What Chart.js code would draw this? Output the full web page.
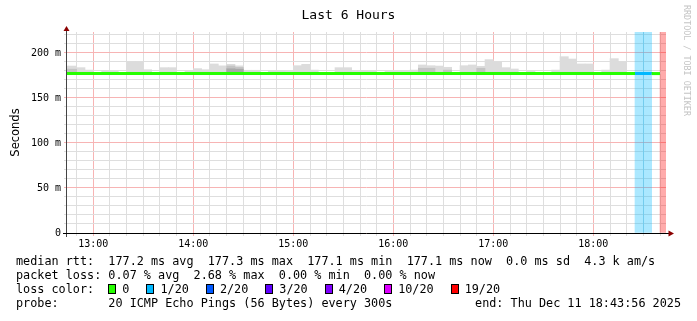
<!DOCTYPE html>
<html><head><meta charset="utf-8">
<script src="https://cdn.jsdelivr.net/npm/chart.js@4"></script>
<style>
html,body{margin:0;padding:0;background:#fff;width:697px;height:321px;overflow:hidden;position:relative;}
#c{position:absolute;left:0;top:0;}
.t{position:absolute;font-family:"DejaVu Sans Mono",monospace;color:#000;white-space:pre;}
#title{left:0;width:697px;top:7px;text-align:center;font-size:13px;line-height:16px;}
.row{left:16px;font-size:11.8px;line-height:14px;}
#r1{top:254px;} #r2{top:268px;} #r3{top:282px;} #r4{top:296px;}
#end{top:296px;right:16px;font-size:11.8px;line-height:14px;}
#wm{left:682px;top:5px;font-size:8.4px;line-height:9px;color:#c4c4c4;writing-mode:vertical-rl;}
.box{display:inline-block;width:6px;height:8px;border:1px solid #000;vertical-align:-1px;margin-right:6px;}
.lab{margin-right:17px;}
</style></head>
<body>
<canvas id="c" width="697" height="321"></canvas>
<div class="t" id="title">Last 6 Hours</div>
<div class="t" id="wm">RRDTOOL / TOBI OETIKER</div>
<div class="t row" id="r1">median rtt:  177.2 ms avg  177.3 ms max  177.1 ms min  177.1 ms now  0.0 ms sd  4.3 k am/s</div>
<div class="t row" id="r2">packet loss: 0.07 % avg  2.68 % max  0.00 % min  0.00 % now</div>
<div class="t row" id="r3"></div>
<div class="t row" id="r4">probe:       20 ICMP Echo Pings (56 Bytes) every 300s</div>
<div class="t" id="end">end: Thu Dec 11 18:43:56 2025</div>
<script>
// ---- data ----
const slotTimes = [
 '12:40','12:45','12:50','12:55',
 '13:00','13:05','13:10','13:15','13:20','13:25','13:30','13:35','13:40','13:45','13:50','13:55',
 '14:00','14:05','14:10','14:15','14:20','14:25','14:30','14:35','14:40','14:45','14:50','14:55',
 '15:00','15:05','15:10','15:15','15:20','15:25','15:30','15:35','15:40','15:45','15:50','15:55',
 '16:00','16:05','16:10','16:15','16:20','16:25','16:30','16:35','16:40','16:45','16:50','16:55',
 '17:00','17:05','17:10','17:15','17:20','17:25','17:30','17:35','17:40','17:45','17:50','17:55',
 '18:00','18:05','18:10','18:15','18:20','18:25','18:30','18:35','18:40'
];
const slotMinutes = 5;
const medianRtt = [
 177.2,177.2,177.2,177.2,
 177.2,177.2,177.1,177.2,177.3,177.2,177.2,177.2,177.2,177.2,177.1,177.2,
 177.2,177.2,177.2,177.2,177.3,177.2,177.2,177.2,177.2,177.2,177.2,177.2,
 177.2,177.2,177.2,177.1,177.2,177.2,177.2,177.2,177.2,177.2,177.2,177.2,
 177.2,177.2,177.2,177.2,177.2,177.2,177.2,177.2,177.2,177.2,177.2,177.2,
 177.2,177.2,177.2,177.2,177.1,177.2,177.2,177.2,177.2,177.2,177.2,177.2,
 177.2,177.2,177.2,177.2,177.2,177.2,177.2,177.1,null
];
const smokeMax = [
 185.5,185.5,183.7,181.0,
 178.5,180.0,180.0,178.5,190.4,190.4,181.4,178.5,183.7,183.7,178.5,180.4,
 182.6,181.4,187.8,185.7,187.4,185.7,180.8,180.8,178.5,180.4,180.4,179.5,
 185.9,187.4,181.0,178.5,178.5,183.7,183.7,179.5,180.6,180.0,178.5,179.5,
 179.5,179.5,181.0,186.7,185.9,185.5,184.1,178.5,185.9,186.7,185.2,192.6,
 190.0,183.7,182.2,178.5,179.5,178.5,178.5,181.0,195.9,193.3,187.8,187.8,
 178.5,181.0,193.7,190.4,178.5,null,null,178.5,null
];
const smokeMid = [['12:40',182.0],['12:45',182.0],['14:20',185.5],['14:25',184.0],['16:15',183.0],['16:20',183.0],['16:30',181.0],['16:50',183.0]];
const smokeDark = [['14:20',182.5],['14:25',182.0]];
const lossEvents = [['18:25',1],['18:30',1],['18:40',19]];
const lossLevels = [[0,'#26ff00','0'],[1,'#00b8ff','1/20'],[2,'#0059ff','2/20'],[3,'#5e00ff','3/20'],[4,'#7e00ff','4/20'],[10,'#dd00ff','10/20'],[19,'#ff0000','19/20']];
const yTickLabels = {0:'0',50:'50 m',100:'100 m',150:'150 m',200:'200 m'};
const xHourLabels = {780:'13:00',840:'14:00',900:'15:00',960:'16:00',1020:'17:00',1080:'18:00'};
const xRange = [764.2, 1123.6];
const yRange = [0, 223.3];

// ---- helpers ----
const toMin = s => { const [h,m] = s.split(':').map(Number); return h*60+m; };
const lossByTime = Object.fromEntries(lossEvents);
const lossColor = n => { let c = lossLevels[0][1]; for (const [t,col] of lossLevels) if (n >= t) c = col; return c; };
const alpha = (hex,a) => { const r=parseInt(hex.slice(1,3),16),g=parseInt(hex.slice(3,5),16),b=parseInt(hex.slice(5,7),16); return `rgba(${r},${g},${b},${a})`; };

const r3 = document.getElementById('r3');
r3.innerHTML = 'loss color:  ' + lossLevels.map(([t,c,l]) => `<span class="box" style="background:${c}"></span><span class="lab">${l}</span>`).join('');

const idx = Object.fromEntries(slotTimes.map((t,i)=>[t,i]));
const center = t => toMin(t) + slotMinutes/2;
const smokeData = slotTimes.map((t,i) => smokeMax[i]==null ? {x:center(t), y:null} : {x:center(t), y:[medianRtt[i], smokeMax[i]]});
const midData = smokeMid.map(([t,v]) => ({x:center(t), y:[medianRtt[idx[t]], v]}));
const darkData = smokeDark.map(([t,v]) => ({x:center(t), y:[medianRtt[idx[t]], v]}));
const bandData = lossEvents.map(([t,n]) => ({x:center(t), y:[yRange[0], yRange[1]]}));
const bandColors = lossEvents.map(([t,n]) => alpha(lossColor(n), 0.33));
const lineData = [];
const lineLoss = [];
slotTimes.forEach((t,i) => {
  const s = toMin(t);
  lineData.push({x:s, y:medianRtt[i]}, {x:s+slotMinutes, y:medianRtt[i]});
  lineLoss.push(lossByTime[t]||0, lossByTime[t]||0);
});

const GRID = '#dedede', MGRID = '#f7b4b4';

const axisArrows = {
  id:'axisArrows',
  afterDatasetsDraw(chart){
    const {ctx, chartArea:a} = chart;
    ctx.save();
    ctx.lineWidth = 1;
    ctx.strokeStyle = '#444';
    ctx.beginPath(); ctx.moveTo(a.left-0.5, a.bottom+4); ctx.lineTo(a.left-0.5, a.top-3); ctx.stroke();
    ctx.strokeStyle = '#000';
    ctx.beginPath(); ctx.moveTo(a.left-4, a.bottom+0.5); ctx.lineTo(a.right+4, a.bottom+0.5); ctx.stroke();
    ctx.fillStyle = '#8b0000';
    ctx.beginPath(); ctx.moveTo(a.left-0.5, a.top-6); ctx.lineTo(a.left-3.5, a.top-1); ctx.lineTo(a.left+2.5, a.top-1); ctx.closePath(); ctx.fill();
    ctx.beginPath(); ctx.moveTo(a.right+8, a.bottom+0.5); ctx.lineTo(a.right+2.5, a.bottom-2.5); ctx.lineTo(a.right+2.5, a.bottom+3.5); ctx.closePath(); ctx.fill();
    ctx.restore();
  }
};

Chart.defaults.font.family = '"DejaVu Sans Mono", monospace';
Chart.defaults.color = '#000';

new Chart(document.getElementById('c'), {
  type: 'bar',
  data: {
    datasets: [
      {type:'line', data: lineData, borderWidth:3, pointRadius:0, borderColor:'#26ff00', spanGaps:false,
       segment:{borderColor: c => lossColor(lineLoss[c.p0DataIndex])}, order:1},
      {data: darkData, backgroundColor:'#a9a9a9', grouped:false, order:2, barPercentage:1, categoryPercentage:1},
      {data: midData, backgroundColor:'#c4c4c4', grouped:false, order:3, barPercentage:1, categoryPercentage:1},
      {data: smokeData, backgroundColor:'#dcdcdc', grouped:false, order:4, barPercentage:1, categoryPercentage:1},
      {data: bandData, backgroundColor: bandColors, grouped:false, order:5, barPercentage:1, categoryPercentage:1}
    ]
  },
  options: {
    responsive:false, animation:false, devicePixelRatio:1,
    layout:{padding:{left:0, top:32, right:31, bottom:68}},
    plugins:{legend:{display:false}, tooltip:{enabled:false}},
    scales:{
      x:{type:'linear', min:xRange[0], max:xRange[1], offset:false,
         afterFit: s => { s.height = 20; },
         border:{display:false},
         grid:{offset:false, color: c => (c.tick && Math.round(c.tick.value)%60===0) ? MGRID : GRID, tickLength:3, lineWidth:1},
         ticks:{stepSize:10, includeBounds:false, autoSkip:false, maxRotation:0, padding:2, font:{size:10},
           callback: v => xHourLabels[Math.round(v)] || ''}},
      y:{type:'linear', min:yRange[0], max:yRange[1],
         afterFit: s => { s.width = 67; },
         border:{display:false},
         grid:{color: c => (c.tick && Math.round(c.tick.value)%50===0) ? MGRID : GRID, tickLength:3, lineWidth:1},
         ticks:{stepSize:10, includeBounds:false, autoSkip:false, padding:3, font:{size:10},
           callback: v => yTickLabels[Math.round(v)] || ''},
         title:{display:true, text:'Seconds', font:{family:'"DejaVu Sans", sans-serif', size:11.5}, padding:{top:9,bottom:0}, color:'#000'}}
    }
  },
  plugins:[axisArrows]
});
</script>
</body></html>
